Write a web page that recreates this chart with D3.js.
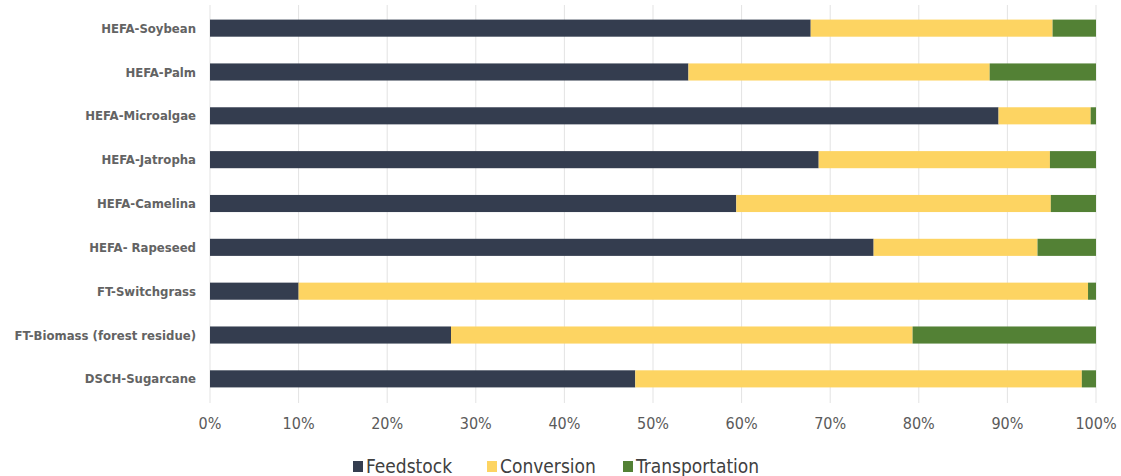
<!DOCTYPE html>
<html>
<head>
<meta charset="utf-8">
<script src="https://cdn.jsdelivr.net/npm/d3@7.9.0/dist/d3.min.js"></script>
<style>
  body { margin: 0; background: #fff; }
  svg { display: block; }
</style>
</head>
<body>
<svg width="1121" height="476"></svg>
<script>
const categories = ['HEFA-Soybean', 'HEFA-Palm', 'HEFA-Microalgae', 'HEFA-Jatropha', 'HEFA-Camelina',
  'HEFA- Rapeseed', 'FT-Switchgrass', 'FT-Biomass (forest residue)', 'DSCH-Sugarcane'];
const feedstock = [67.8, 54.0, 89.0, 68.7, 59.4, 74.9, 10.0, 27.2, 48.0];
const conversion = [27.3, 34.0, 10.4, 26.1, 35.5, 18.5, 89.1, 52.1, 50.4];
const transportation = [4.9, 12.0, 0.6, 5.2, 5.1, 6.6, 0.9, 20.7, 1.6];
const seriesNames = ['Feedstock', 'Conversion', 'Transportation'];
const colors = ['#343d4f', '#fdd462', '#538135'];
const xTicks = [0, 10, 20, 30, 40, 50, 60, 70, 80, 90, 100];

const svg = d3.select('svg');
const plotLeft = 210, plotRight = 1096, plotTop = 6, plotBottom = 401;
const fontFam = 'DejaVu Sans Condensed, DejaVu Sans, sans-serif';

let x = d3.scaleLinear().domain([0, 100]).range([plotLeft, plotRight]);
let y = d3.scaleBand().domain(categories).range([plotTop, plotBottom]).paddingInner(0.61).paddingOuter(0.31);

// gridlines
svg.append('g').selectAll('line').data(xTicks).join('line')
  .attr('x1', d => x(d)).attr('x2', d => x(d))
  .attr('y1', 5).attr('y2', 403)
  .attr('stroke', '#e3e3e3').attr('stroke-width', 1);

let rows = categories.map((c, i) => ({ cat: c, Feedstock: feedstock[i], Conversion: conversion[i], Transportation: transportation[i] }));
let stacked = d3.stack().keys(seriesNames)(rows);

stacked.forEach((layer, idx) => {
  svg.append('g').selectAll('rect').data(layer).join('rect')
    .attr('x', d => x(d[0]))
    .attr('width', d => Math.min(x(d[1]), plotRight) - x(d[0]))
    .attr('y', d => y(d.data.cat))
    .attr('height', y.bandwidth())
    .attr('fill', colors[idx]);
});

// category labels
svg.append('g').selectAll('text').data(categories).join('text')
  .attr('x', 196)
  .attr('y', d => y(d) + y.bandwidth() / 2)
  .attr('dy', '0.35em')
  .attr('text-anchor', 'end')
  .attr('font-family', fontFam)
  .attr('font-weight', 'bold')
  .attr('font-size', 13)
  .attr('fill', '#636363')
  .text(d => d);

// x tick labels
svg.append('g').selectAll('text').data(xTicks).join('text')
  .attr('x', d => x(d))
  .attr('y', 429)
  .attr('text-anchor', 'middle')
  .attr('font-family', fontFam)
  .attr('font-size', 16)
  .attr('fill', '#5a5a5a')
  .text(d => d + '%');

// legend
const legendX = [353, 487, 623];
let legend = svg.append('g').selectAll('g').data(seriesNames).join('g')
  .attr('transform', (d, i) => `translate(${legendX[i]},466)`);
legend.append('rect').attr('x', 0).attr('y', -5).attr('width', 10).attr('height', 11)
  .attr('fill', (d, i) => colors[i]);
legend.append('text').attr('x', 13).attr('y', 0).attr('dy', '0.35em')
  .attr('font-family', fontFam)
  .attr('font-size', 19)
  .attr('fill', '#404040')
  .text(d => d);
</script>
</body>
</html>
